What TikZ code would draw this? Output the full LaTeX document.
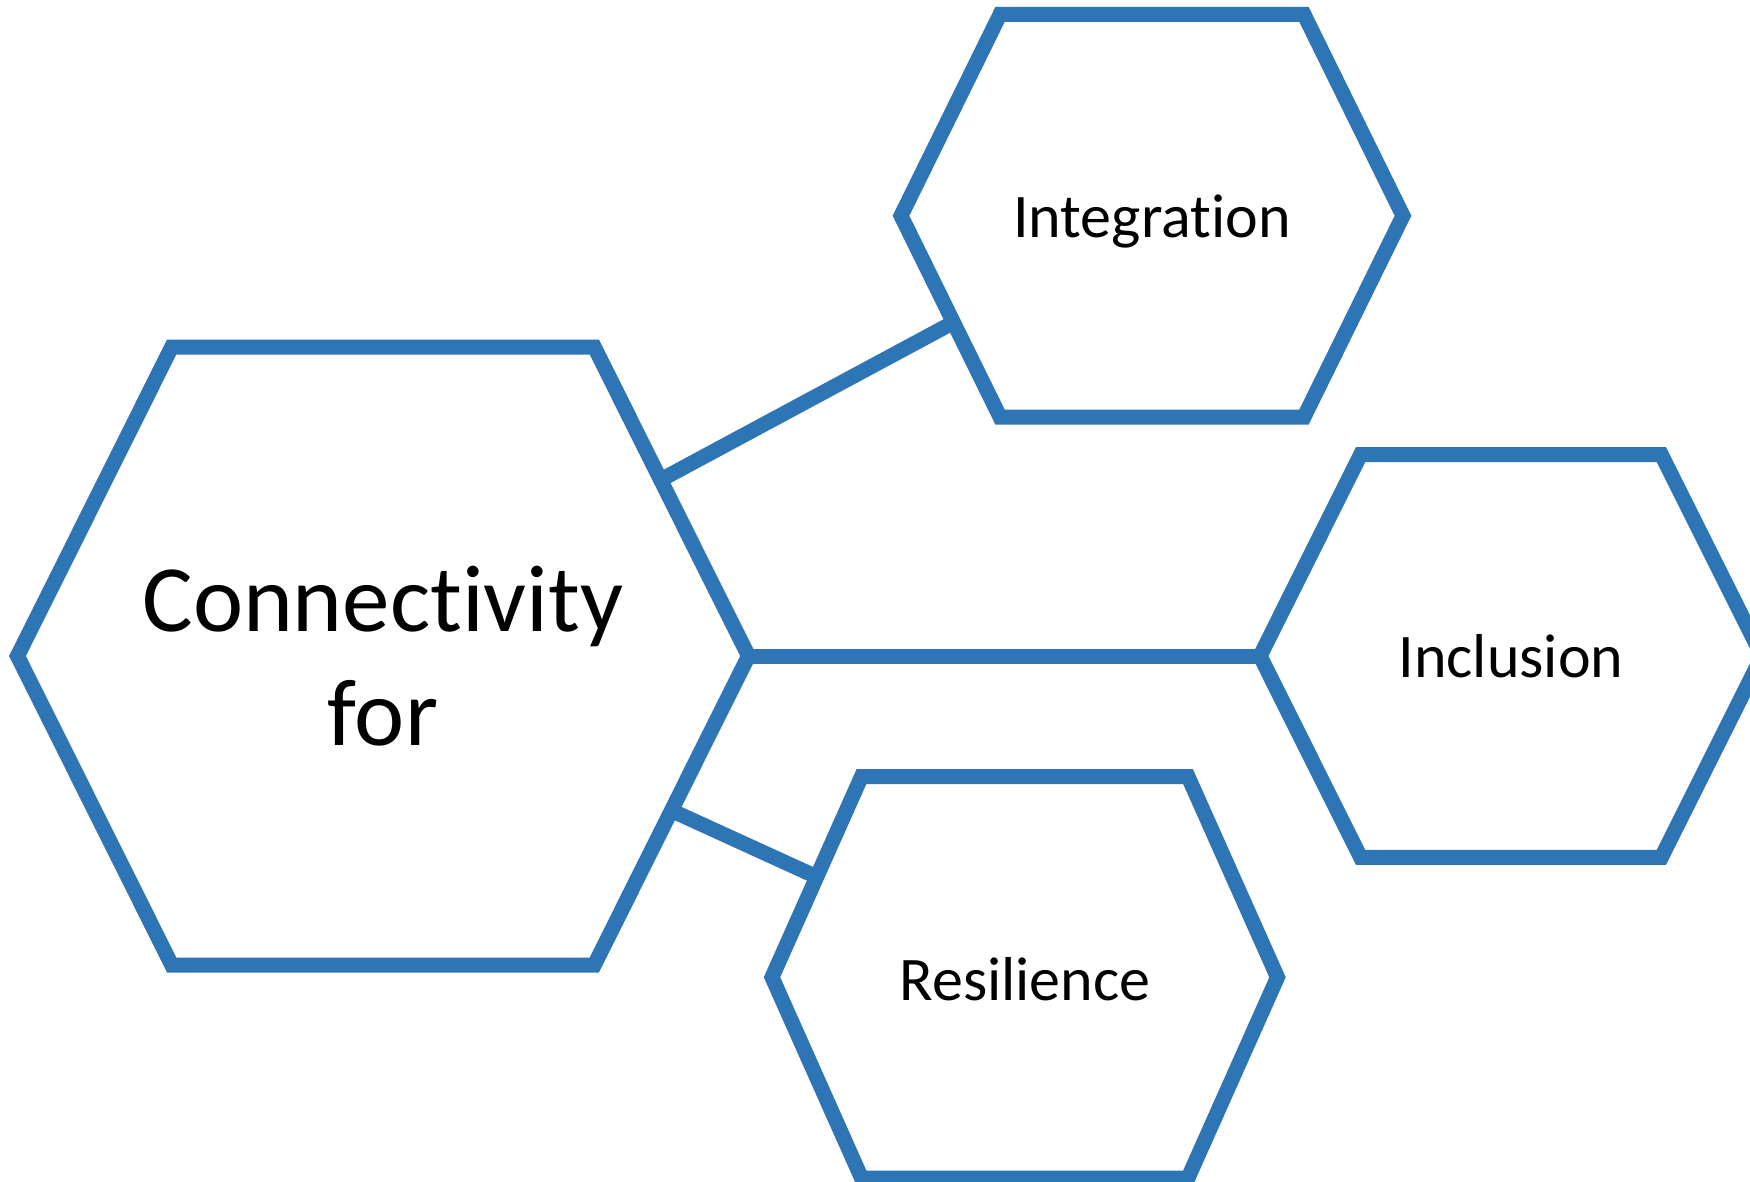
\documentclass[tikz,border=0pt]{standalone}
\usepackage{fontspec}
\setmainfont{Carlito}[Ligatures={NoCommon,NoContextual}]
\usetikzlibrary{calc}
\definecolor{hexblue}{HTML}{2E75B6}
\tikzset{
  hexline/.style={draw=hexblue, line width=15pt, fill=white, line join=miter},
  link/.style={draw=hexblue, line width=15pt},
  bigtext/.style={font=\fontsize{95}{114}\selectfont, align=center, inner sep=0pt},
  labeltext/.style={font=\fontsize{62}{74}\selectfont, inner sep=0pt, anchor=base},
}
\begin{document}
\begin{tikzpicture}[x=1pt,y=-1pt]
\useasboundingbox (0,0) rectangle (1750,1182);
\clip (0,0) rectangle (1750,1182);
% Connectivity hexagon
\coordinate (C-l)  at (17.5,656);
\coordinate (C-tl) at (171.7,347);
\coordinate (C-tr) at (594.3,347);
\coordinate (C-r)  at (748.5,656);
\coordinate (C-br) at (594.3,965);
\coordinate (C-bl) at (171.7,965);
% Integration hexagon
\coordinate (I-l)  at (901,215.75);
\coordinate (I-tl) at (1000,14.5);
\coordinate (I-tr) at (1304,14.5);
\coordinate (I-r)  at (1403,215.75);
\coordinate (I-br) at (1304,417);
\coordinate (I-bl) at (1000,417);
% Inclusion hexagon
\coordinate (N-l)  at (1260,656);
\coordinate (N-tl) at (1360.6,454.7);
\coordinate (N-tr) at (1661.4,454.7);
\coordinate (N-r)  at (1762,656);
\coordinate (N-br) at (1661.4,857.3);
\coordinate (N-bl) at (1360.6,857.3);
% Resilience hexagon
\coordinate (R-l)  at (772,977.25);
\coordinate (R-tl) at (861.5,776.5);
\coordinate (R-tr) at (1188,776.5);
\coordinate (R-r)  at (1277.5,977.25);
\coordinate (R-br) at (1188,1178);
\coordinate (R-bl) at (861.5,1178);
% connection points
\coordinate (CI-a) at ($(C-tr)!0.43!(C-r)$);
\coordinate (CI-b) at ($(I-l)!0.53!(I-bl)$);
\coordinate (CR-a) at ($(C-r)!0.5!(C-br)$);
\coordinate (CR-b) at ($(R-l)!0.5!(R-tl)$);
% connectors
\draw[link] (CI-a) -- (CI-b);
\draw[link] (C-r) -- (N-l);
\draw[link] (CR-a) -- (CR-b);
% hexagons
\draw[hexline] (C-l) -- (C-tl) -- (C-tr) -- (C-r) -- (C-br) -- (C-bl) -- cycle;
\draw[hexline] (I-l) -- (I-tl) -- (I-tr) -- (I-r) -- (I-br) -- (I-bl) -- cycle;
\draw[hexline] (N-l) -- (N-tl) -- (N-tr) -- (N-r) -- (N-br) -- (N-bl) -- cycle;
\draw[hexline] (R-l) -- (R-tl) -- (R-tr) -- (R-r) -- (R-br) -- (R-bl) -- cycle;
% texts
\node[bigtext] (C) at (383,656) {Connectivity\\for};
\node[labeltext] (I) at (1152,237.7) {Integration};
\node[labeltext] (N) at (1511,677.5) {Inclusion};
\node[labeltext] (R) at (1025,1000) {Resilience};
\end{tikzpicture}
\end{document}
